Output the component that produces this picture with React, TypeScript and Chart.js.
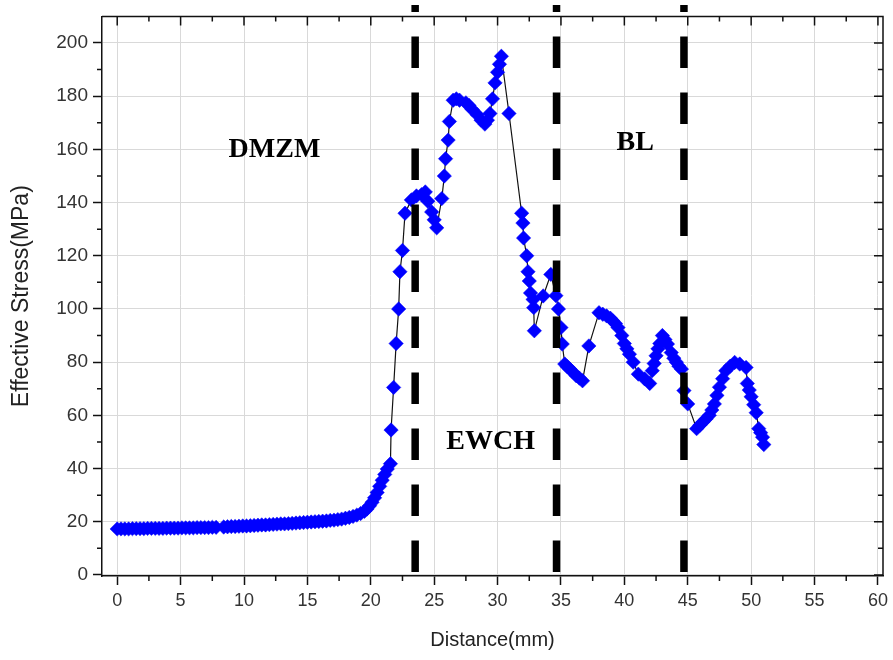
import React, { useEffect, useRef } from "react";
import { Chart, registerables } from "chart.js";

Chart.register(...registerables);

// ---- Data ----
// base-metal plateau
const distanceBase = [
  0, 0.3, 0.6, 0.9, 1.2, 1.5, 1.8, 2.1, 2.4, 2.7, 3.0, 3.3, 3.6, 3.9, 4.2, 4.5, 4.8, 5.1, 5.4, 5.7, 6.0, 6.3, 6.6, 6.9, 7.2, 7.5, 7.8,
];
const stressBase = [
  17.3, 17.3, 17.3, 17.3, 17.4, 17.4, 17.4, 17.4, 17.5, 17.5, 17.5, 17.5, 17.5, 17.6, 17.6, 17.6, 17.6, 17.7, 17.7, 17.7, 17.7, 17.8, 17.8, 17.8, 17.8, 17.9, 17.9,
];
const distanceSlope = [
  8.4, 8.7, 9.0, 9.3, 9.6, 9.9, 10.2, 10.5, 10.8, 11.1, 11.4, 11.7, 12.0, 12.3, 12.6, 12.9, 13.2, 13.5, 13.8, 14.1,
  14.4, 14.7, 15.0, 15.3, 15.6, 15.9, 16.2, 16.5, 16.8, 17.1, 17.4, 17.7, 18.0, 18.3, 18.6, 18.9, 19.2, 19.5,
];
const stressSlope = [
  18.0, 18.1, 18.2, 18.2, 18.3, 18.4, 18.4, 18.5, 18.6, 18.7, 18.8, 18.8, 18.9, 19.0, 19.1, 19.2, 19.2, 19.3, 19.4, 19.5,
  19.6, 19.7, 19.8, 19.9, 20.0, 20.1, 20.2, 20.3, 20.5, 20.6, 20.8, 21.0, 21.3, 21.6, 22.0, 22.5, 23.1, 23.9,
];
const distanceKnee = [19.7, 19.9, 20.1, 20.3, 20.5, 20.7, 20.9, 21.1, 21.3, 21.55];
const stressKnee = [24.8, 26.0, 27.3, 29.0, 31.0, 33.3, 35.6, 37.8, 39.8, 41.8];
const distanceRise = [
  21.6, 21.8, 22.0, 22.2, 22.3, 22.5, 22.7, 23.2, 23.6, 24.0, 24.3, 24.5, 24.8, 25.0, 25.2, 25.6, 25.8, 25.9, 26.1, 26.2,
  26.5, 26.75, 27.0, 27.5, 27.75, 28.0, 28.4, 28.7, 29.0, 29.2, 29.4, 29.6, 29.8, 30.0, 30.15, 30.3, 30.9,
];
const stressRise = [
  54.5, 70.5, 87, 100, 114, 122, 136, 141, 142.5, 143, 144, 140.5, 136.5, 133.5, 130.5, 141.5, 150, 156.5, 163.5, 170.5,
  178.5, 179, 178.5, 177.5, 176.5, 175, 173, 171, 169.5, 171, 173.5, 179, 185, 189, 192, 195, 173.5,
];
const distanceDrop = [
  31.9, 32.0, 32.05, 32.3, 32.4, 32.5, 32.6, 32.8, 32.85, 32.9, 33.6, 34.2, 34.6, 34.8, 35.0, 35.1, 35.3, 35.5, 35.7, 35.9,
  36.2, 36.45, 36.7, 37.2,
];
const stressDrop = [
  136, 132.3, 126.7, 120, 114, 110.5, 106, 103.6, 100.5, 91.8, 104.9, 113, 105, 100, 93, 86.8, 79.3, 78.3, 77.4, 76.5,
  74.9, 74, 73, 86.1,
];
const distanceTail = [
  38.0, 38.3, 38.6, 38.9, 39.1, 39.3, 39.5, 39.8, 40.0, 40.2, 40.4, 40.7, 41.1, 41.6, 42.0, 42.2, 42.35, 42.5, 42.65, 42.8,
  43.0, 43.2, 43.4, 43.7, 43.9, 44.1, 44.3, 44.5, 44.7, 45.0, 45.7, 45.95, 46.2, 46.45, 46.7, 46.9, 47.1, 47.3, 47.5, 47.75,
  48.0, 48.35, 48.7, 49.1, 49.6, 49.7, 49.85, 50.0, 50.2, 50.4, 50.6, 50.75, 50.9, 51.0,
];
const stressTail = [
  98.6, 98, 97.4, 96.5, 95.5, 94.5, 93, 90, 87, 85, 83, 80, 75.5, 73.7, 72, 76.8, 79.5, 82.4, 85, 87,
  90, 88.5, 86.8, 83.6, 81.5, 80, 78.5, 77.4, 69.3, 64.3, 55, 56.3, 57.5, 58.7, 60, 62, 64.3, 67.5, 70.6, 73.8,
  76.8, 78.5, 79.9, 79.3, 78, 72, 69.5, 67, 64, 61, 55, 53.5, 51.8, 49,
];

const distance = [...distanceBase, ...distanceSlope, ...distanceKnee, ...distanceRise, ...distanceDrop, ...distanceTail];
const stress = [...stressBase, ...stressSlope, ...stressKnee, ...stressRise, ...stressDrop, ...stressTail];

// zone boundaries (dashed lines) and zone labels
const zoneBoundaries = [23.5, 34.65, 44.7];
const zoneLabels = ["DMZM", "EWCH", "BL"];
const zoneLabelX = [12.4, 29.45, 40.85];
const zoneLabelY = [160, 50, 162.5];

const xTitle = "Distance(mm)";
const yTitle = "Effective Stress(MPa)";
const xMin = -1.2;
const xMax = 60.4;
const yMin = -0.4;
const yMax = 210;
const xStep = 5;
const yStep = 20;

const decorPlugin = {
  id: "decor",
  afterDatasetsDraw(chart: any) {
    const { ctx, chartArea, scales } = chart;
    const x = scales.x;
    const y = scales.y;
    ctx.save();
    // dashed boundary lines
    ctx.strokeStyle = "#000";
    ctx.lineWidth = 7.5;
    ctx.lineCap = "butt";
    ctx.setLineDash([31.5, 24.5]);
    ctx.lineDashOffset = 24.5;
    zoneBoundaries.forEach((b) => {
      const px = x.getPixelForValue(b);
      ctx.beginPath();
      ctx.moveTo(px, 5);
      ctx.lineTo(px, chartArea.bottom - 2);
      ctx.stroke();
    });
    ctx.setLineDash([]);
    // zone labels
    ctx.font = 'bold 28px "Liberation Serif"';
    ctx.fillStyle = "#000";
    ctx.textAlign = "center";
    ctx.textBaseline = "middle";
    zoneLabels.forEach((t, i) => {
      ctx.fillText(t, x.getPixelForValue(zoneLabelX[i]), y.getPixelForValue(zoneLabelY[i]));
    });
    ctx.restore();
  },
  afterDraw(chart: any) {
    const { ctx, chartArea, scales } = chart;
    const x = scales.x;
    const y = scales.y;
    const { left, right, top, bottom } = chartArea;
    ctx.save();
    ctx.strokeStyle = "#111";
    ctx.lineWidth = 1.5;
    // top and right frame
    ctx.beginPath();
    ctx.moveTo(left, top);
    ctx.lineTo(right, top);
    ctx.lineTo(right, bottom);
    ctx.stroke();
    ctx.beginPath();
    // x ticks: minor outward at bottom, all inward at top
    for (let v = 0; v <= 60; v += xStep / 2) {
      const px = x.getPixelForValue(v);
      const major = v % xStep === 0;
      const len = major ? 9 : 5;
      if (!major) {
        ctx.moveTo(px, bottom);
        ctx.lineTo(px, bottom + len);
      }
      ctx.moveTo(px, top);
      ctx.lineTo(px, top + len);
    }
    // y ticks: minor outward on left, all inward on right
    for (let v = 0; v <= 200; v += yStep / 2) {
      const py = y.getPixelForValue(v);
      const major = v % yStep === 0;
      const len = major ? 9 : 5;
      if (!major) {
        ctx.moveTo(left, py);
        ctx.lineTo(left - len, py);
      }
      ctx.moveTo(right, py);
      ctx.lineTo(right - len, py);
    }
    ctx.stroke();
    ctx.restore();
  },
};

export default function App() {
  const canvasRef = useRef<HTMLCanvasElement | null>(null);

  useEffect(() => {
    const canvas = canvasRef.current;
    if (!canvas) return;
    const chart = new Chart(canvas, {
      type: "scatter",
      data: {
        datasets: [
          {
            data: distance.map((d, i) => ({ x: d, y: stress[i] })),
            showLine: true,
            borderColor: "#111",
            borderWidth: 1.2,
            pointStyle: "rectRot",
            pointRadius: 7.2,
            pointBackgroundColor: "#0000ff",
            pointBorderColor: "#0000ff",
            pointBorderWidth: 0.5,
          },
        ],
      },
      options: {
        responsive: false,
        animation: false,
        devicePixelRatio: 1,
        layout: { padding: { left: 0, top: 14, right: 9, bottom: 0 } },
        plugins: { legend: { display: false }, tooltip: { enabled: false } },
        scales: {
          x: {
            type: "linear",
            min: xMin,
            max: xMax,
            afterFit: (s: any) => {
              s.height = 84;
            },
            ticks: {
              stepSize: xStep,
              includeBounds: false,
              autoSkip: false,
              maxRotation: 0,
              padding: 5,
              color: "#333",
              font: { family: "Liberation Sans", size: 18 },
            },
            grid: {
              color: "#d9d9d9",
              lineWidth: 1,
              drawTicks: true,
              tickLength: 9,
              tickColor: "#111",
              tickWidth: 1.5,
            },
            border: { display: true, color: "#111", width: 1.5 },
            title: {
              display: true,
              text: xTitle,
              color: "#222",
              font: { family: "Liberation Sans", size: 20 },
              padding: { top: 8, bottom: 8 },
            },
          },
          y: {
            type: "linear",
            min: yMin,
            max: yMax,
            afterFit: (s: any) => {
              s.width = 102;
            },
            ticks: {
              stepSize: yStep,
              includeBounds: false,
              autoSkip: false,
              padding: 5,
              color: "#333",
              font: { family: "Liberation Sans", size: 19 },
            },
            grid: {
              color: "#d9d9d9",
              lineWidth: 1,
              drawTicks: true,
              tickLength: 9,
              tickColor: "#111",
              tickWidth: 1.5,
            },
            border: { display: true, color: "#111", width: 1.5 },
            title: {
              display: true,
              text: yTitle,
              color: "#222",
              font: { family: "Liberation Sans", size: 23 },
              padding: { top: 8, bottom: 8 },
            },
          },
        },
      },
      plugins: [decorPlugin],
    });
    return () => chart.destroy();
  }, []);

  return (
    <div style={{ position: "fixed", left: 0, top: 0, width: 893, height: 660, background: "#fff" }}>
      <canvas ref={canvasRef} width={893} height={660} style={{ display: "block", width: 893, height: 660 }} />
    </div>
  );
}
